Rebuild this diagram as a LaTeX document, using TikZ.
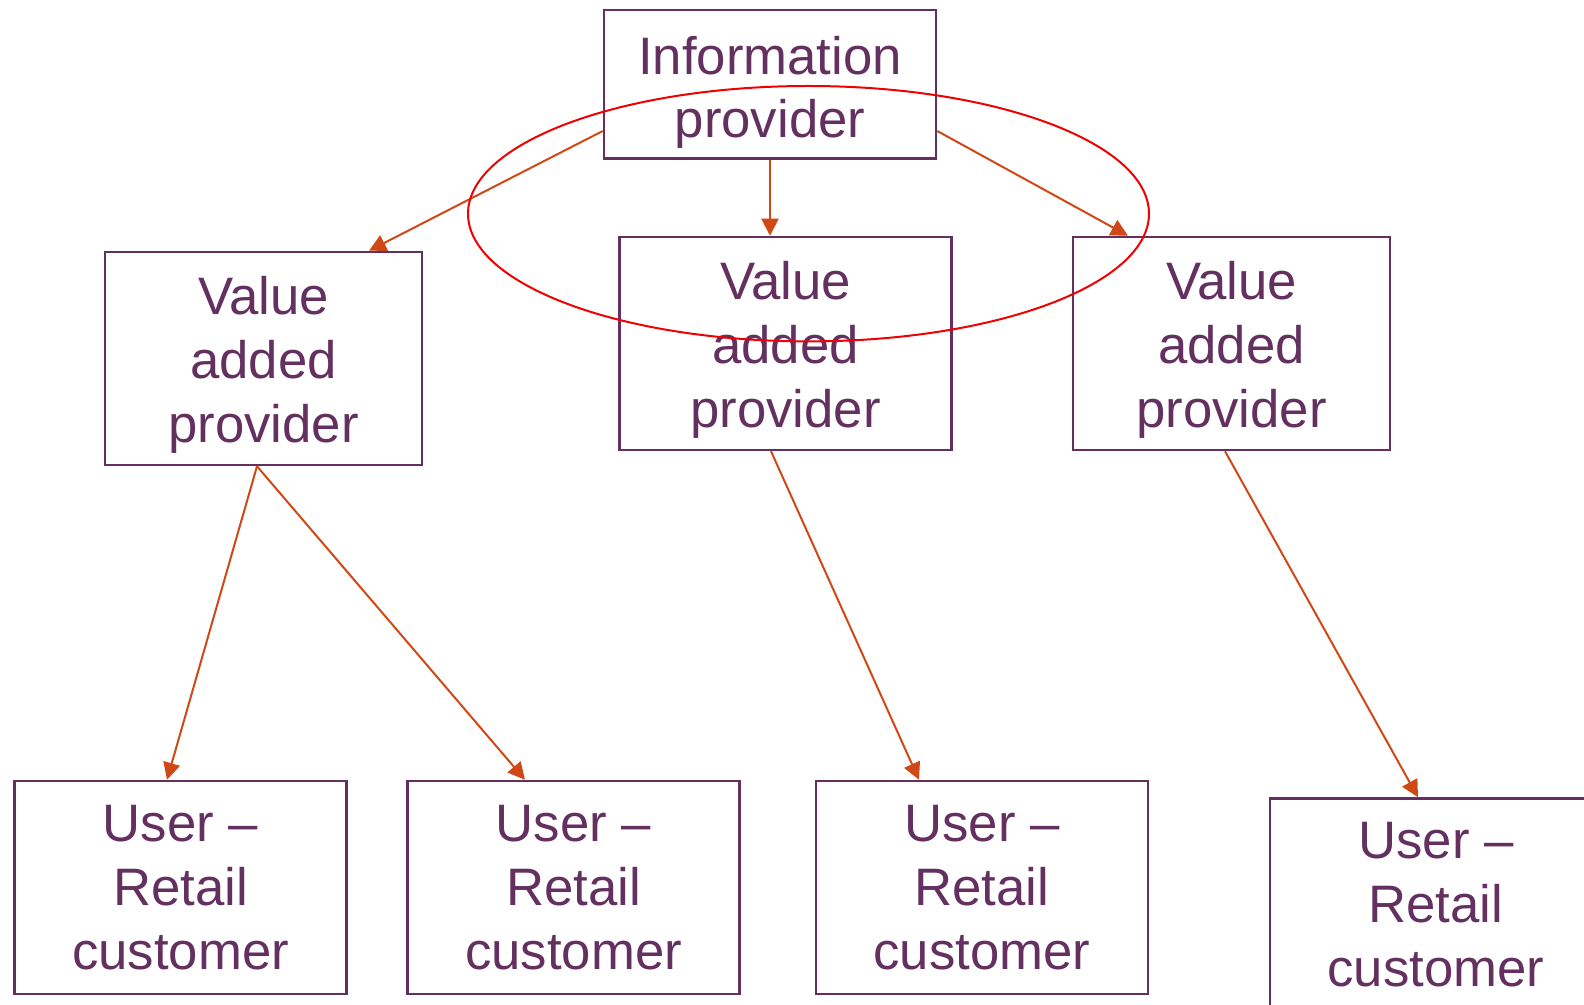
\documentclass[tikz,border=0pt]{standalone}
\usepackage{fontspec}
\setmainfont{Liberation Sans}
\usepackage{tikz}
\usetikzlibrary{arrows.meta}
\usetikzlibrary{positioning}
\definecolor{boxcolor}{RGB}{99,48,96}
\definecolor{arrowcolor}{RGB}{208,72,22}
\definecolor{ringcolor}{RGB}{240,0,0}
\tikzstyle{box} = [rectangle, draw=boxcolor, line width=0.25mm, text=boxcolor, align=center, inner sep=0pt, minimum width=3.32cm, minimum height=2.13cm, font=\fontsize{15}{18.2}\selectfont]
\tikzstyle{link} = [draw=arrowcolor, line width=0.2mm, -{Triangle[length=1.7mm, width=1.7mm]}]

\begin{document}
\begin{tikzpicture}
	\clip (0,0) rectangle (15.84,-10.05);

	\node[box, minimum height=1.485cm] (Info) at (7.70,-0.845) {\\[-0.1cm]Information\\provider};

	\node[box, minimum width=3.17cm] at ([xshift=-5.065cm, yshift=-2.74cm]Info.center) (VAP-1) {Value\\added\\provider\\[-0.65cm]};
	\node[box] at ([xshift=0.155cm, yshift=-2.59cm]Info.center) (VAP-2) {Value\\added\\provider\\[-0.65cm]};
	\node[box, minimum width=3.17cm] at ([xshift=4.46cm]VAP-2.center) (VAP-3) {Value\\added\\provider\\[-0.65cm]};

	\node[box] at ([xshift=-0.83cm, yshift=-5.29cm]VAP-1.center) (User-1) {User --\\Retail\\customer};
	\node[box] at ([xshift=3.93cm]User-1.center) (User-2) {User --\\Retail\\customer};
	\node[box] at ([xshift=4.085cm]User-2.center) (User-3) {User --\\Retail\\customer};
	\node[box] at ([xshift=4.54cm, yshift=-0.175cm]User-3.center) (User-4) {User --\\Retail\\customer};

	% information provider down to the value added providers
	\draw[link] ([yshift=-0.465cm]Info.west) -- ([xshift=1.055cm]VAP-1.north);
	\draw[link] (Info.south) -- (Info.south |- VAP-2.north);
	\draw[link] ([yshift=-0.465cm]Info.east) -- ([xshift=-1.035cm]VAP-3.north);

	% value added providers down to the users
	\draw[link] ([xshift=-0.065cm]VAP-1.south) -- ([xshift=-0.135cm]User-1.north);
	\draw[link] ([xshift=-0.065cm]VAP-1.south) -- ([xshift=-0.485cm]User-2.north);
	\draw[link] ([xshift=-0.145cm]VAP-2.south) -- ([xshift=-0.63cm]User-3.north);
	\draw[link] ([xshift=-0.065cm]VAP-3.south) -- ([xshift=-0.18cm]User-4.north);

	\draw[color=ringcolor, line width=0.2mm] (8.085,-2.137) ellipse [x radius=3.405cm, y radius=1.277cm];

\end{tikzpicture}
\end{document}
